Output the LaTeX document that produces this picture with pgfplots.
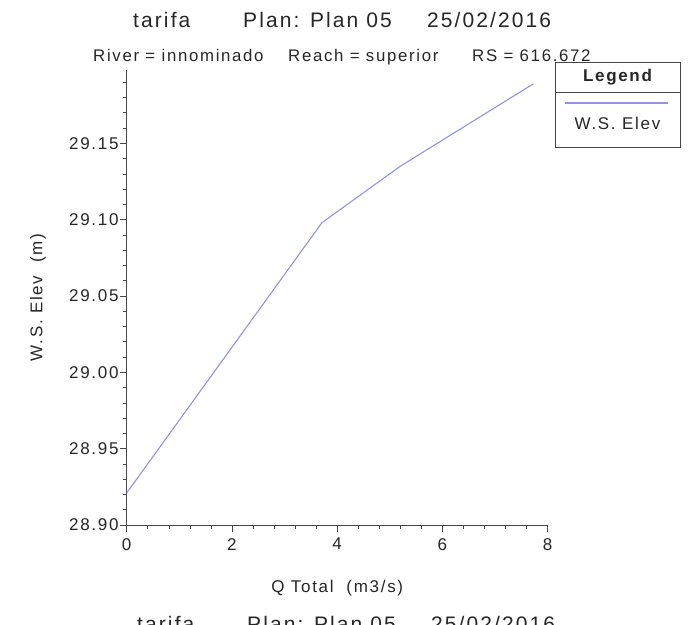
\documentclass[border=0pt]{standalone}
\usepackage{pgfplots}
\pgfplotsset{compat=1.18}
\usepackage{fontspec}
\setmainfont{Liberation Sans}[LetterSpace=10]
\definecolor{wscol}{RGB}{146,146,230}
\definecolor{axcol}{RGB}{70,70,70}
\begin{document}
\begin{tikzpicture}
\useasboundingbox (0,0) rectangle (690pt,-624pt);
\clip (0,0) rectangle (690pt,-624pt);
% titles
\begin{scope}[every node/.style={inner sep=0pt, anchor=base west, text=black!85}]
\node[font=\fontsize{21}{25}\selectfont] at (133pt,-27.3pt) {tarifa};
\node[font=\fontsize{21}{25}\selectfont] at (243pt,-27.3pt) {Plan: Plan 05};
\node[font=\fontsize{21}{25}\selectfont] at (427pt,-27.3pt) {25/02/2016};
\node[font=\fontsize{16.8}{20}\selectfont] at (93pt,-61pt) {River = innominado};
\node[font=\fontsize{16.8}{20}\selectfont] at (288pt,-61pt) {Reach = superior};
\node[font=\fontsize{16.8}{20}\selectfont] at (472pt,-61pt) {RS = 616.672};
\node[font=\fontsize{21}{25}\selectfont] at (137pt,-631pt) {tarifa};
\node[font=\fontsize{21}{25}\selectfont] at (247pt,-631pt) {Plan: Plan 05};
\node[font=\fontsize{21}{25}\selectfont] at (431pt,-631pt) {25/02/2016};
\end{scope}
\begin{axis}[
  at={(126.7pt,-525pt)}, anchor=south west,
  scale only axis, width=421pt, height=455pt,
  xmin=0, xmax=8, ymin=28.90, ymax=29.198,
  axis lines=left, axis line style={-, axcol, line width=0.7pt},
  xtick={0,2,4,6,8},
  ytick={28.90,28.95,29.00,29.05,29.10,29.15},
  minor xtick={0,0.4,...,8},
  minor ytick={28.90,28.91,...,29.195},
  tick align=outside,
  major tick length=7pt, minor tick length=3.5pt,
  tick style={axcol, line width=0.6pt},
  /pgf/number format/assume math mode=true,
  ticklabel style={font=\fontsize{17}{20}\selectfont, text=black!85},
  yticklabel style={/pgf/number format/fixed, /pgf/number format/precision=2, /pgf/number format/fixed zerofill, inner sep=1pt},
  xticklabel style={/pgf/number format/fixed, inner sep=2pt, yshift=-4pt},
  label style={font=\fontsize{17}{20}\selectfont, text=black!85},
  xlabel={Q Total\ \ (m3/s)},
  ylabel={W.S. Elev\ \ (m)},
  xlabel style={at={(axis description cs:0.5,-0.138)}, anchor=center},
  ylabel style={at={(axis description cs:-0.2107,0.5)}, anchor=center, rotate=0},
  clip=false,
]
\addplot[wscol, line width=1.1pt] coordinates {
  (0,28.921) (3.71,29.098) (5.20,29.135) (7.73,29.189)
};
\end{axis}
% legend
\draw[axcol, line width=0.7pt] (555pt,-62pt) rectangle (680pt,-147pt);
\draw[axcol, line width=0.7pt] (555pt,-92pt) -- (680pt,-92pt);
\draw[wscol, line width=1.1pt] (565pt,-103pt) -- (668pt,-103pt);
\node[font=\fontsize{17}{20}\selectfont\bfseries, text=black!85] at (617.5pt,-77pt) {Legend};
\node[font=\fontsize{17}{20}\selectfont, text=black!85] at (617.5pt,-123pt) {W.S. Elev};
\end{tikzpicture}
\end{document}
